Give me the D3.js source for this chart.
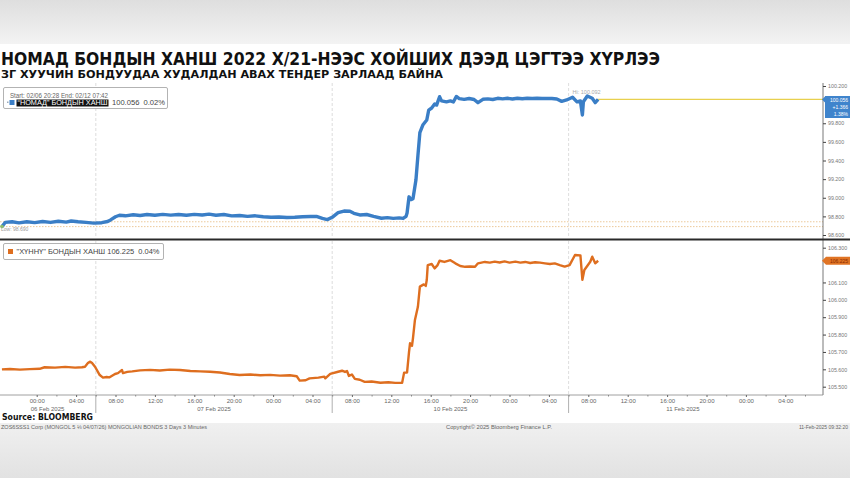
<!DOCTYPE html>
<html><head><meta charset="utf-8">
<script src="https://cdn.jsdelivr.net/npm/d3@7"></script>
<style>body{margin:0;background:#fff}svg{display:block}</style>
</head><body><svg id="c" width="850" height="478"></svg>
<script>
// ---------- DATA ----------
// time = trading hours since 06 Feb 2025 20:00 (weekend removed)
const nomadHours = [0.47,0.8,1.5,2.2,3.0,3.8,4.6,5.4,6.2,7.0,7.5,8.2,9.0,9.8,10.6,11.2,11.5,12.0,12.4,13.0,13.8,14.5,15.2,16.0,16.8,17.6,18.4,19.2,20.0,20.8,21.5,22.2,23.0,23.8,24.6,25.4,26.2,27.0,27.8,28.6,29.4,30.2,31.0,31.8,32.4,33.0,33.5,34.0,34.6,35.2,35.8,36.2,36.8,37.5,38.2,39.0,39.6,40.2,40.8,41.2,41.5,41.6,41.8,42.0,42.2,42.5,42.7,42.9,43.2,43.6,43.8,44.1,44.4,44.6,44.9,45.1,45.6,46.0,46.3,46.6,46.9,47.4,47.9,48.4,48.8,49.3,49.8,50.3,50.8,51.3,51.8,52.3,52.8,53.3,53.8,54.3,54.8,55.3,55.8,56.3,56.8,57.3,57.8,58.4,58.85,59.2,59.4,59.5,59.9,60.4,60.7,61.0];
const nomadValues = [98.690,98.735,98.742,98.730,98.742,98.733,98.745,98.735,98.748,98.738,98.750,98.742,98.735,98.728,98.732,98.745,98.762,98.796,98.812,98.806,98.818,98.810,98.820,98.812,98.822,98.814,98.820,98.812,98.822,98.815,98.824,98.812,98.820,98.805,98.810,98.800,98.806,98.796,98.790,98.793,98.788,98.790,98.796,98.798,98.800,98.778,98.765,98.790,98.840,98.857,98.855,98.833,98.815,98.820,98.800,98.780,98.786,98.778,98.784,98.778,98.800,98.836,99.010,98.980,98.990,99.190,99.450,99.700,99.781,99.835,99.942,99.964,100.007,99.995,100.085,100.040,100.030,100.040,100.028,100.088,100.065,100.056,100.066,100.055,100.021,100.057,100.062,100.055,100.068,100.062,100.068,100.060,100.068,100.063,100.068,100.066,100.068,100.066,100.067,100.066,100.060,100.035,100.050,100.079,100.030,100.040,99.889,100.030,100.092,100.068,100.021,100.056];

const khunnuHours = [0.47,1.29,2.3,3.3,4.3,4.8,5.86,6.9,7.9,8.6,8.9,9.2,9.4,9.6,9.92,10.4,10.73,11.1,11.4,11.95,12.25,12.66,12.76,13.2,13.7,14.49,15.5,16.5,17.5,18.55,19.6,20.6,21.6,22.6,23.6,24.6,25.7,26.7,27.7,28.7,29.7,30.4,30.7,31.3,31.7,32.6,33.2,33.3,33.8,34.6,35.0,35.3,35.5,35.7,36.0,36.3,36.8,37.3,38.0,38.9,39.7,40.4,41.1,41.3,41.6,41.8,41.9,42.1,42.2,42.4,42.7,42.9,43.3,43.5,43.6,43.7,44.1,44.4,44.7,44.9,45.4,46.0,46.5,47.0,47.5,48.0,48.5,48.8,49.5,50.0,50.5,51.0,51.5,52.0,52.6,53.1,53.6,54.1,54.6,55.1,55.6,56.1,56.6,57.1,57.6,58.1,58.65,59.2,59.4,59.6,60.2,60.4,60.7,61.0];
const khunnuValues = [105.600,105.602,105.598,105.601,105.603,105.612,105.610,105.614,105.610,105.612,105.615,105.636,105.644,105.638,105.615,105.567,105.552,105.556,105.554,105.573,105.578,105.596,105.578,105.585,105.588,105.594,105.597,105.593,105.598,105.596,105.590,105.588,105.586,105.582,105.573,105.567,105.570,105.566,105.568,105.564,105.566,105.560,105.535,105.537,105.548,105.552,105.558,105.548,105.574,105.586,105.592,105.585,105.590,105.562,105.570,105.545,105.540,105.528,105.530,105.523,105.526,105.522,105.523,105.581,105.582,105.700,105.750,105.735,105.779,105.884,105.960,106.076,106.089,106.080,106.114,106.200,106.206,106.181,106.200,106.225,106.218,106.228,106.210,106.195,106.190,106.192,106.190,106.210,106.218,106.214,106.220,106.215,106.221,106.214,106.220,106.214,106.218,106.212,106.216,106.214,106.210,106.206,106.210,106.200,106.191,106.200,106.258,106.256,106.115,106.172,106.219,106.248,106.210,106.225];

const timeTickHours = [4,8,12,16,20,24,28,32,36,40,44,48,52,56,60,64,68,72,76,80];
const timeTickLabels = ["00:00","04:00","08:00","12:00","16:00","20:00","00:00","04:00","08:00","12:00","16:00","20:00","00:00","04:00","08:00","12:00","16:00","20:00","00:00","04:00"];
const dateLabelHours = [5.1,22,46,69.6];
const dateLabels = ["06 Feb 2025","07 Feb 2025","10 Feb 2025","11 Feb 2025"];
const sessionBreakHours = [10,34,58];

// tick labels visible on the right axes (100.000 and 106.200 are covered by the last-value tags)
const nomadTicks = [98.6,98.8,99.0,99.2,99.4,99.6,99.8,100.2];
const khunnuTicks = [105.5,105.6,105.7,105.8,105.9,106.0,106.1,106.3];
const nomadLast = 100.056, nomadChange = "+1.366", nomadPct = "1.38%";
const nomadHi = 100.092, nomadLow = 98.690, nomadRef = 98.742;
const khunnuLast = 106.225;
const nomadName = "\u201CНОМАД\u201D БОНДЫН ХАНШ";
const khunnuName = "\"ХҮННҮ\" БОНДЫН ХАНШ";
const titleText = "НОМАД БОНДЫН ХАНШ 2022 Х/21-НЭЭС ХОЙШИХ ДЭЭД ЦЭГТЭЭ ХҮРЛЭЭ";
const subtitleText = "ЗГ ХУУЧИН БОНДУУДАА ХУДАЛДАН АВАХ ТЕНДЕР ЗАРЛААД БАЙНА";

// ---------- LAYOUT ----------
const svg = d3.select("#c");
const W = 850, H = 478;
const plotL = 0, plotR = 823;
const topY0 = 83, topY1 = 238, botY0 = 241, botY1 = 395;
const BLUE = "#3a7ec6", ORANGE = "#de6e1f";
const small = "Liberation Sans, Arial, sans-serif";

const defs = svg.append("defs");
const g1 = defs.append("linearGradient").attr("id","gt").attr("x1",0).attr("y1",0).attr("x2",0).attr("y2",1);
g1.append("stop").attr("offset",0).attr("stop-color","#dedede");
g1.append("stop").attr("offset",1).attr("stop-color","#f3f3f3");
const g2 = defs.append("linearGradient").attr("id","gb").attr("x1",0).attr("y1",0).attr("x2",0).attr("y2",1);
g2.append("stop").attr("offset",0).attr("stop-color","#f0f0f0");
g2.append("stop").attr("offset",1).attr("stop-color","#e2e2e2");
defs.append("clipPath").attr("id","cpTop").append("rect").attr("x",plotL).attr("y",topY0).attr("width",plotR-plotL).attr("height",topY1-topY0);
defs.append("clipPath").attr("id","cpBot").append("rect").attr("x",plotL).attr("y",botY0).attr("width",plotR-plotL).attr("height",botY1-botY0);

svg.append("rect").attr("width",W).attr("height",H).attr("fill","#fff");
svg.append("rect").attr("width",W).attr("height",44).attr("fill","url(#gt)");
svg.append("rect").attr("y",423).attr("width",W).attr("height",H-423).attr("fill","url(#gb)");

// titles
svg.append("text").attr("x",1).attr("y",65).text(titleText)
  .attr("font-family","DejaVu Sans, Verdana, sans-serif").attr("font-weight","bold").attr("font-size",18)
  .attr("fill","#111").attr("textLength",659).attr("lengthAdjust","spacingAndGlyphs");
svg.append("text").attr("x",1).attr("y",78).text(subtitleText)
  .attr("font-family","DejaVu Sans, Verdana, sans-serif").attr("font-weight","bold").attr("font-size",11)
  .attr("fill","#111").attr("textLength",442).attr("lengthAdjust","spacingAndGlyphs");

// scales
const x = d3.scaleLinear().domain([0,84]).range([-2.7,824.7]);
const yTop = d3.scaleLinear().domain([98.6,100.2]).range([235,86]);
const yBot = d3.scaleLinear().domain([105.5,106.3]).range([386.7,247.7]);

// session separators (dashed in plots)
sessionBreakHours.forEach(h=>{
  [[topY0,topY1],[botY0,botY1]].forEach(([a,b])=>{
    svg.append("line").attr("x1",x(h)).attr("x2",x(h)).attr("y1",a).attr("y2",b)
      .attr("stroke","#d4d4d4").attr("stroke-width",0.8).attr("stroke-dasharray","3,2");
  });
  svg.append("line").attr("x1",x(h)).attr("x2",x(h)).attr("y1",botY1).attr("y2",413)
    .attr("stroke","#9a9a9a").attr("stroke-width",0.8);
});

// reference dotted lines (top)
[nomadRef, nomadLow].forEach(v=>{
  svg.append("line").attr("x1",plotL).attr("x2",plotR).attr("y1",yTop(v)).attr("y2",yTop(v))
    .attr("stroke","#ecc99a").attr("stroke-width",1).attr("stroke-dasharray","1.5,1.5");
});

// last value line (yellow)
const lastH = nomadHours[nomadHours.length-1];
svg.append("line").attr("x1",x(lastH)).attr("x2",plotR).attr("y1",yTop(nomadLast)).attr("y2",yTop(nomadLast))
  .attr("stroke","#e8d04e").attr("stroke-width",1.4);

// lines
const nomadData = nomadHours.map((h,i)=>({h,v:nomadValues[i]}));
const khunnuData = khunnuHours.map((h,i)=>({h,v:khunnuValues[i]}));
svg.append("path").datum(nomadData).attr("clip-path","url(#cpTop)")
  .attr("d",d3.line().x(d=>x(d.h)).y(d=>yTop(d.v)))
  .attr("fill","none").attr("stroke",BLUE).attr("stroke-width",3.4).attr("stroke-linejoin","round");
svg.append("path").datum(khunnuData).attr("clip-path","url(#cpBot)")
  .attr("d",d3.line().x(d=>x(d.h)).y(d=>yBot(d.v)))
  .attr("fill","none").attr("stroke",ORANGE).attr("stroke-width",2.4).attr("stroke-linejoin","round");

// low marker & labels
svg.append("circle").attr("cx",x(nomadHours[0])).attr("cy",yTop(nomadLow)).attr("r",1.8).attr("fill","#8fbf6a");
svg.append("text").attr("x",1).attr("y",231).text("Low: "+nomadLow.toFixed(3))
  .attr("font-family",small).attr("font-size",5).attr("fill","#999");
svg.append("text").attr("x",x(58.4)).attr("y",94).text("Hi: "+nomadHi.toFixed(3))
  .attr("font-family",small).attr("font-size",5.5).attr("fill","#aaa");

// right axes
svg.append("line").attr("x1",plotR).attr("x2",plotR).attr("y1",topY0).attr("y2",botY1).attr("stroke","#555").attr("stroke-width",0.8);
function styleAxis(g){
  g.select(".domain").remove();
  g.selectAll(".tick line").attr("stroke","#444");
  g.selectAll(".tick text").attr("font-family",small).attr("font-size",5.3).attr("fill","#777");
}
svg.append("g").attr("transform",`translate(${plotR},0)`)
  .call(d3.axisRight(yTop).tickValues(nomadTicks).tickSize(3).tickPadding(2).tickFormat(d3.format(".3f")))
  .call(styleAxis);
svg.append("g").attr("transform",`translate(${plotR},0)`)
  .call(d3.axisRight(yBot).tickValues(khunnuTicks).tickSize(3).tickPadding(2).tickFormat(d3.format(".3f")))
  .call(styleAxis);

// panel divider
svg.append("line").attr("x1",0).attr("x2",W).attr("y1",239.5).attr("y2",239.5).attr("stroke","#2a2a2a").attr("stroke-width",2.2);

// last value boxes
const by = yTop(nomadLast);
svg.append("path").attr("d",`M${plotR-1},${by} L${plotR+2},${by-3} L${plotR+2},96 L850,96 L850,118 L${plotR+2},118 L${plotR+2},${by+3} Z`).attr("fill","#3f84cc");
[ nomadLast.toFixed(3), nomadChange, nomadPct ].forEach((t,i)=>{
  svg.append("text").attr("x",848).attr("y",102+i*7).attr("text-anchor","end").text(t)
    .attr("font-family",small).attr("font-size",5).attr("fill","#fff");
});
const oy = yBot(khunnuLast);
svg.append("path").attr("d",`M${plotR-1},${oy} L${plotR+3},${oy-4} L850,${oy-4} L850,${oy+4} L${plotR+3},${oy+4} Z`).attr("fill","#e07424");
svg.append("text").attr("x",848).attr("y",oy+2).attr("text-anchor","end").text(khunnuLast.toFixed(3))
  .attr("font-family",small).attr("font-size",5).attr("fill","#8a2a00");

// bottom axis
svg.append("line").attr("x1",0).attr("x2",plotR).attr("y1",botY1).attr("y2",botY1).attr("stroke","#888").attr("stroke-width",0.8);
const xa = svg.append("g").attr("transform",`translate(0,${botY1})`)
  .call(d3.axisBottom(x).tickValues(timeTickHours).tickSize(2).tickPadding(2)
    .tickFormat((d,i)=>timeTickLabels[i]));
xa.select(".domain").remove();
xa.selectAll(".tick line").attr("stroke","#666");
xa.selectAll(".tick text").attr("font-family",small).attr("font-size",6).attr("fill","#666");
const xm = svg.append("g").attr("transform",`translate(0,${botY1})`)
  .call(d3.axisBottom(x).tickValues(timeTickHours.map(h=>h+2)).tickSize(1.5).tickFormat(""));
xm.select(".domain").remove();
xm.selectAll(".tick line").attr("stroke","#888");
dateLabels.forEach((t,i)=>{
  svg.append("text").attr("x",x(dateLabelHours[i])).attr("y",411).attr("text-anchor","middle").text(t)
    .attr("font-family",small).attr("font-size",6).attr("fill","#666");
});

// legends
svg.append("rect").attr("x",3.5).attr("y",87.5).attr("width",164).attr("height",21).attr("rx",1.5)
  .attr("fill","#fff").attr("stroke","#a0a0a0").attr("stroke-width",0.8);
svg.append("text").attr("x",10).attr("y",98).text("Start: 02/06 20:28 End: 02/12 07:42")
  .attr("font-family",small).attr("font-size",6.5).attr("fill","#666").attr("textLength",98).attr("lengthAdjust","spacingAndGlyphs");
svg.append("rect").attr("x",7).attr("y",101.5).attr("width",1.5).attr("height",1.5).attr("fill","#9ab");
svg.append("rect").attr("x",9.5).attr("y",100).attr("width",5).attr("height",5).attr("fill",BLUE);
svg.append("rect").attr("x",16.5).attr("y",99.5).attr("width",92).attr("height",7).attr("fill","#111");
svg.append("text").attr("x",17.5).attr("y",105.2).text(nomadName)
  .attr("font-family",small).attr("font-size",6.5).attr("fill","#fff").attr("textLength",90).attr("lengthAdjust","spacingAndGlyphs");
svg.append("text").attr("x",112).attr("y",105.2).text(nomadLast.toFixed(3)+"  0.02%").attr("xml:space","preserve")
  .attr("font-family",small).attr("font-size",6.5).attr("fill","#444").attr("textLength",53).attr("lengthAdjust","spacingAndGlyphs");

svg.append("rect").attr("x",3.5).attr("y",243.5).attr("width",160).attr("height",16).attr("rx",1.5)
  .attr("fill","#fff").attr("stroke","#a0a0a0").attr("stroke-width",0.8);
svg.append("rect").attr("x",8).attr("y",249).attr("width",5).attr("height",5).attr("fill",ORANGE);
svg.append("text").attr("x",16.5).attr("y",254.2).text(khunnuName+" "+khunnuLast.toFixed(3)+"  0.04%").attr("xml:space","preserve")
  .attr("font-family",small).attr("font-size",6.5).attr("fill","#444").attr("textLength",143).attr("lengthAdjust","spacingAndGlyphs");

// footer
svg.append("text").attr("x",2).attr("y",420).text("Source: BLOOMBERG")
  .attr("font-family","DejaVu Sans, Verdana, sans-serif").attr("font-weight","bold").attr("font-size",8.5)
  .attr("fill","#111").attr("textLength",91).attr("lengthAdjust","spacingAndGlyphs");
svg.append("text").attr("x",1).attr("y",429).text("ZOS6SSS1 Corp (MONGOL 5 \u215B 04/07/26) MONGOLIAN BONDS 3 Days 3 Minutes")
  .attr("font-family",small).attr("font-size",5).attr("fill","#666").attr("textLength",206).attr("lengthAdjust","spacingAndGlyphs");
svg.append("text").attr("x",446).attr("y",429).text("Copyright\u00A9 2025 Bloomberg Finance L.P.")
  .attr("font-family",small).attr("font-size",5).attr("fill","#666").attr("textLength",106).attr("lengthAdjust","spacingAndGlyphs");
svg.append("text").attr("x",848).attr("y",429).attr("text-anchor","end").text("11-Feb-2025 09:32:20")
  .attr("font-family",small).attr("font-size",5).attr("fill","#666");
</script></body></html>
